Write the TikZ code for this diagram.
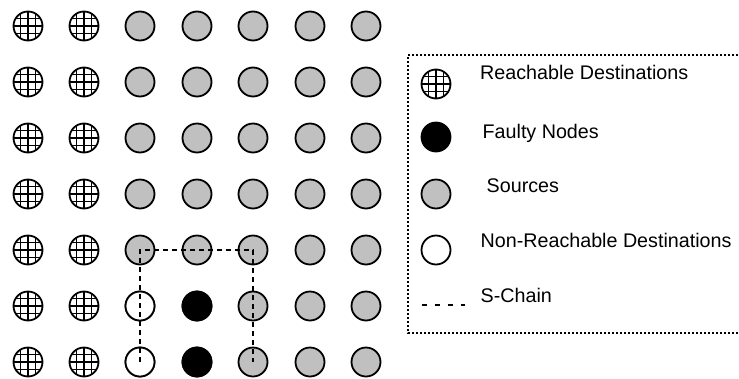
\documentclass[tikz,border=0pt]{standalone}
\usepackage{fontspec}
\setmainfont{Liberation Sans}
\begin{document}
\begin{tikzpicture}[x=1pt,y=-1pt,
  cell/.style={circle,draw=black,line width=1.8pt,minimum size=29pt,inner sep=0pt},
  hatchnode/.style={cell,fill=white,
    path picture={
      \foreach \d in {-7.5,0,7.5}{
        \draw[line width=1.9pt] ([xshift=\d pt]path picture bounding box.north) -- ([xshift=\d pt]path picture bounding box.south);
        \draw[line width=1.9pt] ([yshift=\d pt]path picture bounding box.west) -- ([yshift=\d pt]path picture bounding box.east);
      }}},
  srcnode/.style={cell,fill=srcgray},
  faultnode/.style={cell,fill=black},
  freenode/.style={cell,fill=white},
  chainline/.style={line width=1.5pt,dash pattern=on 5pt off 4pt},
  legtext/.style={anchor=base west,inner sep=0pt,font=\fontsize{19.7}{22}\selectfont},
  legframe/.style={line width=1.3pt,dash pattern=on 2pt off 2pt}
]
\definecolor{srcgray}{RGB}{192,192,192}
\useasboundingbox (0,0) rectangle (739,378);

% 7 x 7 mesh of nodes
\foreach \r/\y in {1/26,2/82,3/138,4/194,5/250,6/306,7/362}{
  \foreach \c/\x in {1/28,2/84}{
    \node[hatchnode] (n-\r-\c) at (\x,\y) {};
  }
  \foreach \c/\x in {3/140,4/197,5/253,6/310,7/366}{
    \node[srcnode] (n-\r-\c) at (\x,\y) {};
  }
}
% faulty nodes and the destinations they cut off
\node[freenode] (n-6-3) at (140,306) {};
\node[freenode] (n-7-3) at (140,362) {};
\node[faultnode] (n-6-4) at (197,306) {};
\node[faultnode] (n-7-4) at (197,362) {};

% S-chain around the faulty block
\draw[chainline] (n-7-3.center) -- (n-5-3.center) -- (n-5-5.center) -- (n-7-5.center);

% legend
\draw[legframe] (738,55) -- (408,55) -- (408,333) -- (738,333);
\node[hatchnode] (l-reach) at (436,84) {};
\node[faultnode] (l-fault) at (436,137) {};
\node[srcnode] (l-src) at (436,194) {};
\node[freenode] (l-free) at (436,250) {};
\coordinate (l-ca) at (421.7,305);
\coordinate (l-cb) at (465,305);
\draw[line width=1.7pt,dash pattern=on 5.7pt off 7.3pt] (l-ca) -- (l-cb);

\node[legtext] (t-reach) at (480,79.3) {Reachable Destinations};
\node[legtext] (t-fault) at (482.5,138) {Faulty Nodes};
\node[legtext] (t-src) at (486.5,192.7) {Sources};
\node[legtext] (t-free) at (480.5,247) {Non-Reachable Destinations};
\node[legtext] (t-chain) at (480.5,302) {S-Chain};
\end{tikzpicture}
\end{document}
